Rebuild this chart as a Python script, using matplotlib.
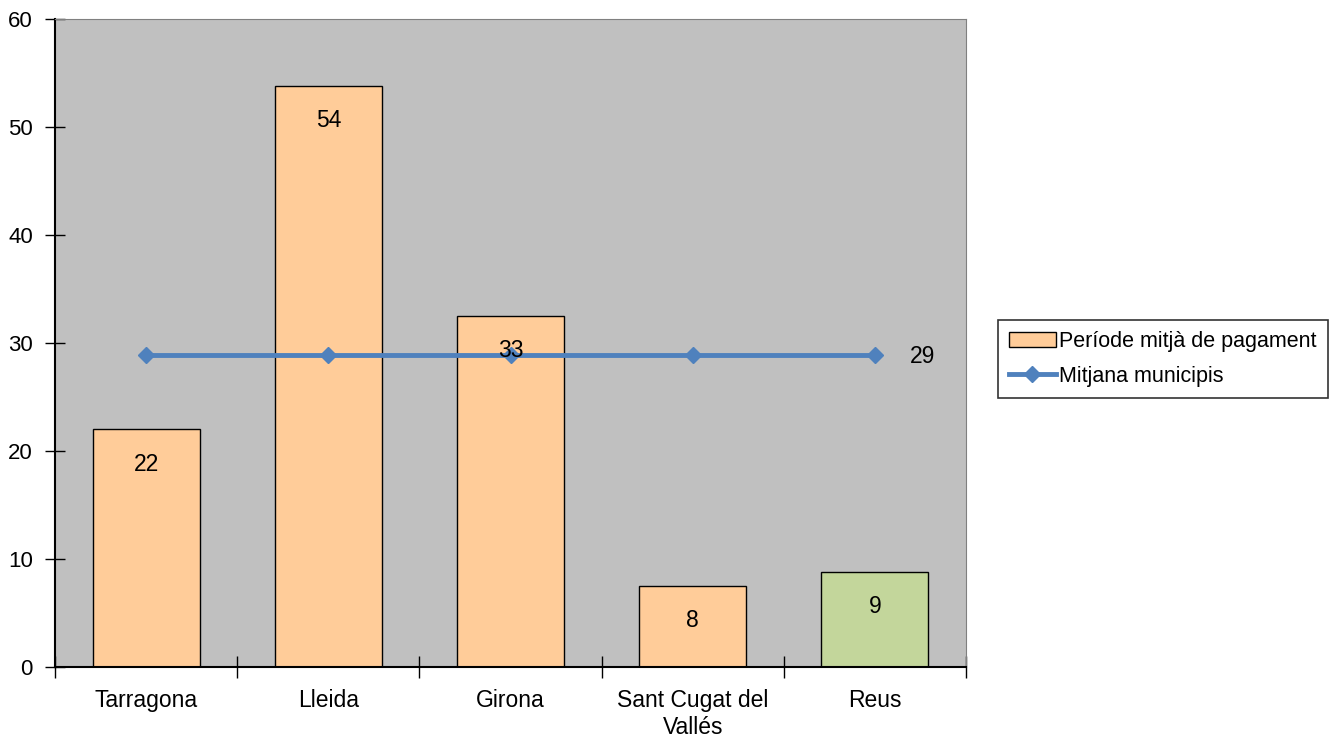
import matplotlib
matplotlib.use("Agg")
import matplotlib.pyplot as plt
from matplotlib.lines import Line2D
from matplotlib.patches import Patch

# ===== Data =====
categories = ["Tarragona", "Lleida", "Girona", "Sant Cugat del\nVallés", "Reus"]
periode = [22.0, 53.8, 32.5, 7.5, 8.8]
periode_labels = ["22", "54", "33", "8", "9"]
mitjana = [28.9, 28.9, 28.9, 28.9, 28.9]
mitjana_label = "29"

BAR_COLOR = "#FFCC99"
REUS_COLOR = "#C3D69B"
LINE_COLOR = "#4F81BD"
BG_COLOR = "#C0C0C0"
FS = 16.5

plt.rcParams["font.family"] = ["Liberation Sans", "DejaVu Sans"]

fig = plt.figure(figsize=(13.41, 7.38), dpi=100)
ax = fig.add_axes([55 / 1341, 71 / 738, 911 / 1341, 648 / 738])
ax.set_facecolor(BG_COLOR)

x = list(range(len(categories)))
colors = [BAR_COLOR] * (len(categories) - 1) + [REUS_COLOR]
ax.bar(x, periode, width=0.587, color=colors, edgecolor="black", linewidth=1.0, zorder=2)

for xi, v, lab in zip(x, periode, periode_labels):
    ax.annotate(lab, (xi, v), xytext=(0, -25), textcoords="offset points",
                ha="center", va="center", fontsize=FS, zorder=4)

ax.plot(x, mitjana, color=LINE_COLOR, linewidth=3.5, marker="D", markersize=8,
        markeredgecolor=LINE_COLOR, zorder=3)
ax.annotate(mitjana_label, (x[-1], mitjana[-1]), xytext=(25, -1), textcoords="offset points",
            ha="left", va="center", fontsize=FS, zorder=4)

ax.set_xlim(-0.5, len(categories) - 0.5)
ax.set_ylim(0, 60)
ax.set_yticks(range(0, 61, 10))
ax.set_xticks([i + 0.5 for i in range(-1, len(categories))])
ax.set_xticklabels([])
ax.set_xticks(x, minor=True)
ax.set_xticklabels(categories, minor=True, fontsize=FS)
ax.tick_params(axis="x", which="minor", length=0, pad=16)
ax.tick_params(axis="x", which="major", direction="inout", length=16, width=1)
ax.tick_params(axis="y", direction="inout", length=14, width=1, labelsize=16, pad=9)

for side in ["top", "right"]:
    ax.spines[side].set_color("#808080")
for side in ["left", "bottom"]:
    ax.spines[side].set_color("black")
    ax.spines[side].set_linewidth(1.5)

handles = [
    Patch(facecolor=BAR_COLOR, edgecolor="black", linewidth=1.0),
    Line2D([0], [0], color=LINE_COLOR, linewidth=3.5, marker="D", markersize=8),
]
leg = fig.legend(handles, ["Període mitjà de pagament", "Mitjana municipis"],
                 loc="center left", bbox_to_anchor=(998 / 1341, 1 - 359 / 738),
                 fontsize=15.5, frameon=True, fancybox=False, edgecolor="black",
                 handlelength=2.2, handletextpad=0.15, borderpad=0.5, labelspacing=0.65,
                 borderaxespad=0)
leg.get_frame().set_linewidth(1.2)

fig.savefig("out.png", dpi=100)
